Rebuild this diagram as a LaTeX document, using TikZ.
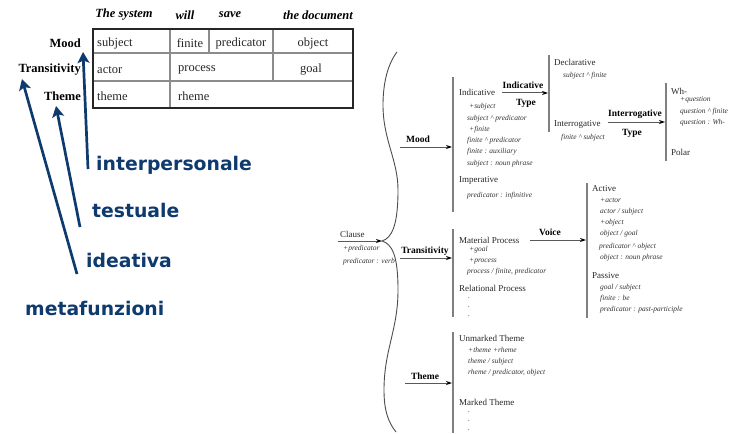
\documentclass[tikz,border=0pt]{standalone}
\usepackage{fontspec}
\setmainfont{Liberation Serif}
\newfontfamily\metafont{DejaVu Sans}
\usepackage{tikz}
\usetikzlibrary{arrows.meta,positioning}
\definecolor{navy}{HTML}{0F3A6E}
\definecolor{grid}{HTML}{8C8C8C}
\definecolor{bar}{HTML}{808080}

\tikzset{
  rowlbl/.style={font=\fontsize{12.5}{14}\selectfont\bfseries,anchor=east,inner sep=0pt},
  head/.style={font=\fontsize{12.5}{14}\selectfont\bfseries\itshape,inner sep=0pt},
  cell/.style={font=\fontsize{12.5}{14}\selectfont,text=black!85,inner sep=0pt},
  metalbl/.style={font=\metafont\fontsize{18.8}{20}\selectfont\bfseries,text=navy,anchor=west,inner sep=0pt},
  metaarrow/.style={draw=navy,line width=2.7pt,-{Stealth[length=11pt,width=12pt,inset=2.5pt]}},
  feat/.style={font=\fontsize{9}{10}\selectfont,text=black!85,anchor=west,inner sep=0pt},
  realz/.style={font=\fontsize{7.5}{8}\selectfont\itshape,text=black!80,anchor=west,inner sep=0pt},
  sys/.style={font=\fontsize{9.5}{10}\selectfont\bfseries,inner sep=0pt},
  sysarrow/.style={draw=black!65,line width=1pt,-{Stealth[length=6pt,width=4pt,color=black]}},
  sysbar/.style={draw=bar,line width=1.3pt}
}

\begin{document}
\begin{tikzpicture}[x=1pt,y=-1pt]
\useasboundingbox (0,0) rectangle (735,433);

% table
\node[head] (hsys) at (124,15) {The system};
\node[head] (hwill) at (185,15) {will};
\node[head] (hsave) at (230,15) {save};
\node[head] (hdoc) at (318,15) {the document};
\node[rowlbl] (mood) at (81,43) {Mood};
\node[rowlbl] (trans) at (81,70) {Transitivity};
\node[rowlbl] (theme) at (81,96) {Theme};
\draw[grid,line width=1.1pt] (93,53) -- (353,53) (93,81) -- (353,81)
  (170,29) -- (170,108) (209,29) -- (209,53) (273,29) -- (273,81);
\draw[black!85,line width=2.6pt] (93,29) rectangle (353,108);
\node[cell,anchor=west] (csubj) at (97,43) {subject};
\node[cell] (cfin) at (190,43) {finite};
\node[cell] (cpred) at (241,43) {predicator};
\node[cell] (cobj) at (313,43) {object};
\node[cell,anchor=west] (cact) at (97,70) {actor};
\node[cell,anchor=west] (cproc) at (178,70) {process};
\node[cell] (cgoal) at (311,70) {goal};
\node[cell,anchor=west] (cthm) at (97,96) {theme};
\node[cell,anchor=west] (crhm) at (178,96) {rheme};

% metafunzioni
\node[metalbl] (inter) at (96,165) {interpersonale};
\node[metalbl] (testu) at (92,210) {testuale};
\node[metalbl] (ideat) at (86,260) {ideativa};
\node[metalbl] (metaf) at (25,308) {metafunzioni};
\coordinate (interfoot) at (88,169);
\coordinate (testufoot) at (80,227);
\coordinate (ideatfoot) at (77,274);
\coordinate (moodtip) at (83,52);
\coordinate (themetip) at (56,106);
\coordinate (transtip) at (22,79);
\draw[metaarrow] (interfoot) -- (moodtip);
\draw[metaarrow] (testufoot) -- (themetip);
\draw[metaarrow] (ideatfoot) -- (transtip);

% system network
\node[feat] (clause) at (340,234) {Clause};
\node[realz] (cl1) at (343,249) {+predicator};
\node[realz] (cl2) at (343,262) {predicator : verb};
\coordinate (clfrom) at (338,241);
\coordinate (brace) at (382,241);
\draw[sysarrow] (clfrom) -- (brace);
\draw[black!70,line width=0.9pt] (397,52) .. controls (387,65) and (383,85) .. (383,105)
  .. controls (383,140) and (398,160) .. (398,190)
  .. controls (398,225) and (392,238) .. (brace)
  .. controls (392,244) and (398,255) .. (398,290)
  .. controls (398,330) and (384,350) .. (384,390)
  .. controls (384,410) and (388,422) .. (396,432);

% Mood
\node[sys] (smood) at (418,139) {Mood};
\coordinate (moodfrom) at (400,147);
\coordinate (moodin) at (452,147);
\draw[sysarrow] (moodfrom) -- (moodin);
\draw[sysbar] (453,77) -- (453,212);
\node[feat] (indic) at (459,92) {Indicative};
\node[realz] (i1) at (469,107) {+subject};
\node[realz] (i2) at (467,119) {subject \textasciicircum\ predicator};
\node[realz] (i3) at (469,130) {+finite};
\node[realz] (i4) at (467,141) {finite \textasciicircum\ predicator};
\node[realz] (i5) at (467,152) {finite : auxiliary};
\node[realz] (i6) at (467,164) {subject : noun phrase};
\node[feat] (imper) at (459,180) {Imperative};
\node[realz] (im1) at (467,196) {predicator : infinitive};

\node[sys] (sindic) at (523,85) {Indicative};
\node[sys] (sindtype) at (526,103) {Type};
\coordinate (indfrom) at (502,93);
\coordinate (indin) at (548,93);
\draw[sysarrow] (indfrom) -- (indin);
\draw[sysbar] (549,55) -- (549,132);
\node[feat] (decl) at (554,62) {Declarative};
\node[realz] (d1) at (563,76) {subject \textasciicircum\ finite};
\node[feat] (interr) at (554,124) {Interrogative};
\node[realz] (q1) at (561,138) {finite \textasciicircum\ subject};

\node[sys] (sinterr) at (635,114) {Interrogative};
\node[sys] (sinttype) at (632,133) {Type};
\coordinate (intfrom) at (608,122);
\coordinate (intin) at (665,122);
\draw[sysarrow] (intfrom) -- (intin);
\draw[sysbar] (666,83) -- (666,161);
\node[feat] (wh) at (671,91) {Wh-};
\node[realz] (w1) at (680,100) {+question};
\node[realz] (w2) at (680,112) {question \textasciicircum\ finite};
\node[realz] (w3) at (680,123) {question : Wh-};
\node[feat] (polar) at (671,152) {Polar};

% Transitivity
\node[sys] (strans) at (425,251) {Transitivity};
\coordinate (transfrom) at (400,258);
\coordinate (transin) at (452,258);
\draw[sysarrow] (transfrom) -- (transin);
\draw[sysbar] (453,229) -- (453,317);
\node[feat] (matp) at (459,240) {Material Process};
\node[realz] (m1) at (469,250) {+goal};
\node[realz] (m2) at (469,261) {+process};
\node[realz] (m3) at (467,272) {process / finite, predicator};
\node[feat] (relp) at (459,288) {Relational Process};
\foreach \y in {298,307,316}
  \node[realz] at (468,\y) {.};

\node[sys] (svoice) at (550,232) {Voice};
\coordinate (voicefrom) at (530,240);
\coordinate (voicein) at (586,240);
\draw[sysarrow] (voicefrom) -- (voicein);
\draw[sysbar] (587,183) -- (587,318);
\node[feat] (active) at (592,189) {Active};
\node[realz] (a1) at (600,200) {+actor};
\node[realz] (a2) at (600,212) {actor / subject};
\node[realz] (a3) at (600,223) {+object};
\node[realz] (a4) at (600,234) {object / goal};
\node[realz] (a5) at (599,247) {predicator \textasciicircum\ object};
\node[realz] (a6) at (600,258) {object : noun phrase};
\node[feat] (passive) at (592,276) {Passive};
\node[realz] (p1) at (600,288) {goal / subject};
\node[realz] (p2) at (600,299) {finite : be};
\node[realz] (p3) at (600,310) {predicator : past-participle};

% Theme
\node[sys] (stheme) at (425,376) {Theme};
\coordinate (themefrom) at (405,383);
\coordinate (themein) at (452,383);
\draw[sysarrow] (themefrom) -- (themein);
\draw[sysbar] (453,332) -- (453,433);
\node[feat] (unmk) at (459,338) {Unmarked Theme};
\node[realz] (u1) at (468,350) {+theme +rheme};
\node[realz] (u2) at (468,362) {theme / subject};
\node[realz] (u3) at (468,373) {rheme / predicator, object};
\node[feat] (mark) at (459,402) {Marked Theme};
\foreach \y in {412,421,430}
  \node[realz] at (468,\y) {.};
\end{tikzpicture}
\end{document}
